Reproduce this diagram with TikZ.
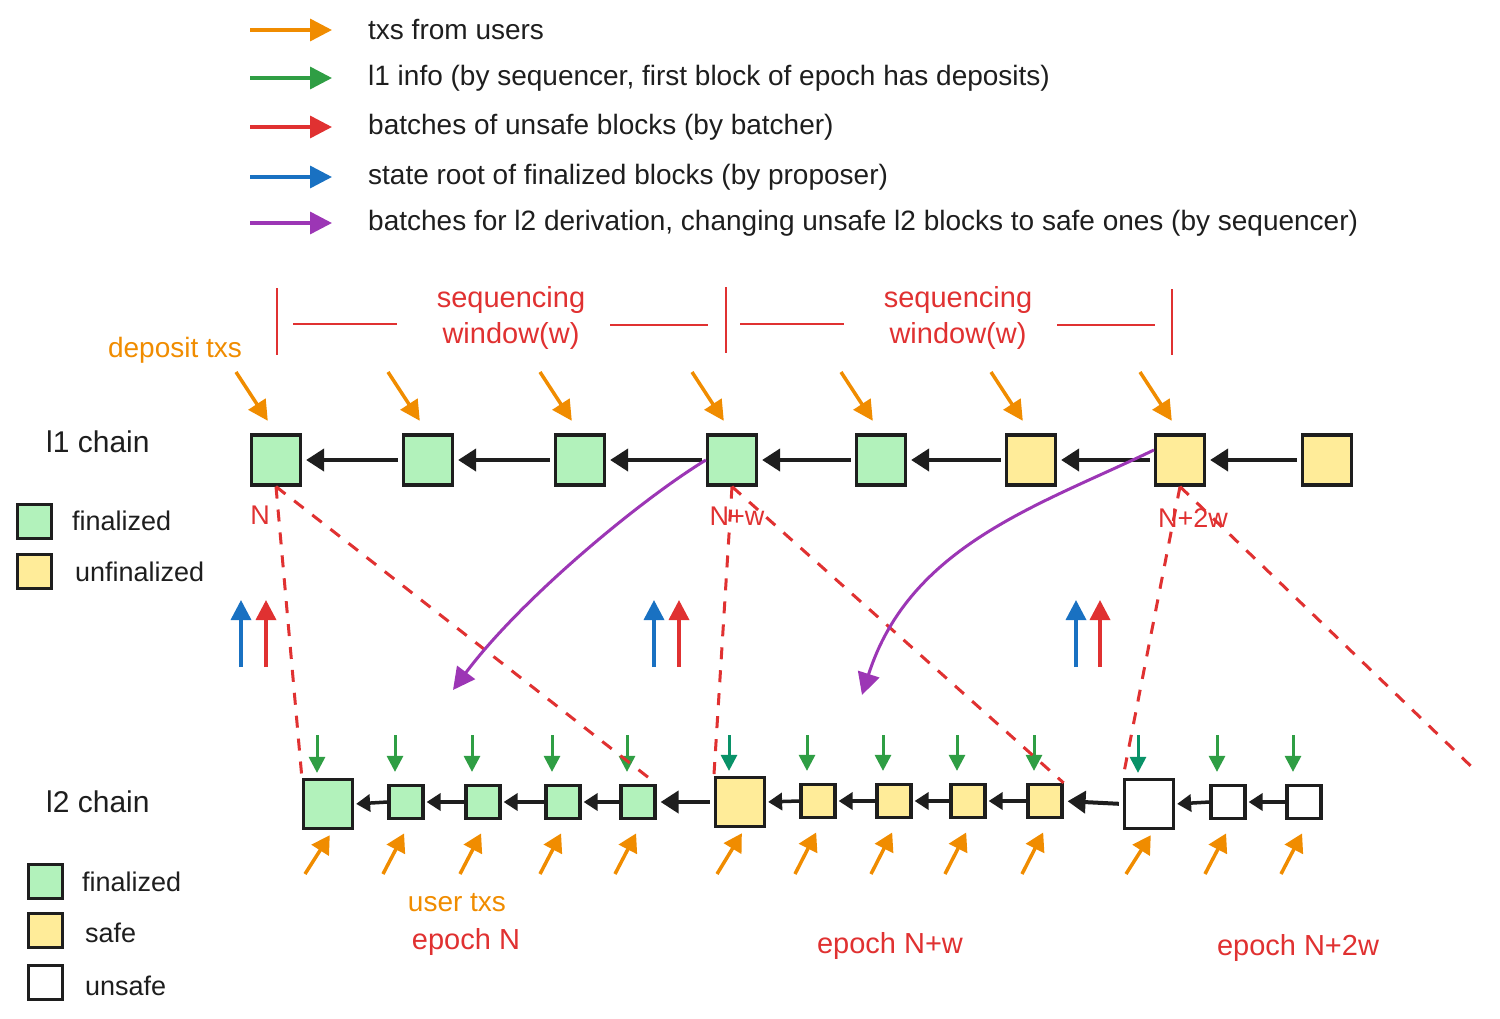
\documentclass[tikz,border=0pt]{standalone}
\usepackage{fontspec}
\setmainfont{Liberation Sans}
\usetikzlibrary{arrows.meta}
\definecolor{cOr}{HTML}{F08C00}
\definecolor{cGr}{HTML}{2F9E44}
\definecolor{cTe}{HTML}{099268}
\definecolor{cRe}{HTML}{E03131}
\definecolor{cBl}{HTML}{1971C2}
\definecolor{cPu}{HTML}{9C36B5}
\definecolor{fGr}{HTML}{B2F2BB}
\definecolor{fYe}{HTML}{FFEC99}
\definecolor{cBk}{HTML}{1E1E1E}
\begin{document}
\begin{tikzpicture}[x=1pt,y=-1pt,
  txt/.style={anchor=west,inner sep=0pt,font=\fontsize{27}{30}\selectfont,text=cBk},
  legtxt/.style={txt,font=\fontsize{28}{32}\selectfont},
  rtxt/.style={inner sep=0pt,font=\fontsize{29}{36}\selectfont,text=cRe},
  ntxt/.style={inner sep=0pt,font=\fontsize{27}{30}\selectfont,text=cRe},
  otxt/.style={inner sep=0pt,font=\fontsize{28}{30}\selectfont,text=cOr},
  blkbase/.style={draw=cBk,line width=3.2pt,inner sep=0pt},
  l1blk/.style={blkbase,minimum width=49pt,minimum height=50pt},
  bigblk/.style={blkbase,minimum width=49pt,minimum height=49pt},
  smblk/.style={blkbase,minimum width=34pt,minimum height=33pt},
  legblk/.style={blkbase,line width=3pt,minimum width=34pt,minimum height=34pt},
  fin/.style={fill=fGr}, unf/.style={fill=fYe}, uns/.style={fill=white},
  legar/.style={line width=3.5pt,-{Triangle[length=22pt,width=22pt]}},
  depar/.style={cOr,line width=3.5pt,-{Triangle[length=20pt,width=20pt]},shorten >=15pt},
  chainar/.style={cBk,line width=4pt,-{Triangle[length=18pt,width=22pt]},shorten <=4pt,shorten >=4pt},
  chainsm/.style={cBk,line width=3.5pt,-{Triangle[length=14pt,width=17pt]},shorten >=2pt},
  grar/.style={line width=3pt,-{Triangle[length=16pt,width=16pt]}},
  orar/.style={cOr,line width=3.5pt,-{Triangle[length=18pt,width=20pt]}},
  upar/.style={line width=3.5pt,-{Triangle[length=20pt,width=20pt]}},
  rdash/.style={cRe,line width=3pt,dash pattern=on 12pt off 11pt},
  window/.style={cRe,line width=2.5pt},
  purar/.style={cPu,line width=3pt,-{Triangle[length=22pt,width=22pt]}}
]
\useasboundingbox (0,0) rectangle (1500,1018);

% ---------- legend ----------
\foreach \y/\c/\t [count=\i] in {30/cOr/txs from users,
  78/cGr/{l1 info (by sequencer, first block of epoch has deposits)},
  127/cRe/batches of unsafe blocks (by batcher),
  177/cBl/state root of finalized blocks (by proposer),
  223/cPu/batches for l2 derivation{,} changing unsafe l2 blocks to safe ones (by sequencer)}{
  \coordinate (ls\i) at (250,\y);
  \coordinate (le\i) at (332,\y);
  \draw[legar,\c] (ls\i) -- (le\i);
  \node[legtxt] (lt\i) at (368,\y) {\t};
}

% ---------- sequencing windows ----------
\coordinate (wa1) at (277,288); \coordinate (wa2) at (277,355);
\coordinate (wb1) at (726,287); \coordinate (wb2) at (726,353);
\coordinate (wc1) at (1172,289); \coordinate (wc2) at (1172,355);
\draw[window] (wa1) -- (wa2);
\draw[window] (wb1) -- (wb2);
\draw[window] (wc1) -- (wc2);
\coordinate (h1a) at (293,324); \coordinate (h1b) at (397,324);
\coordinate (h2a) at (610,325); \coordinate (h2b) at (708,325);
\coordinate (h3a) at (740,324); \coordinate (h3b) at (844,324);
\coordinate (h4a) at (1057,325); \coordinate (h4b) at (1155,325);
\draw[window] (h1a) -- (h1b);
\draw[window] (h2a) -- (h2b);
\draw[window] (h3a) -- (h3b);
\draw[window] (h4a) -- (h4b);
\node[rtxt,align=center] (sw1) at (511,318) {sequencing\\window(w)};
\node[rtxt,align=center] (sw2) at (958,318) {sequencing\\window(w)};

\node[otxt] (dep) at (175,350) {deposit txs};

% ---------- l1 chain ----------
\node[txt,font=\fontsize{30}{32}\selectfont] (l1lab) at (46,442) {l1 chain};
\node[l1blk,fin] (l1a) at (276,460) {};
\node[l1blk,fin] (l1b) at (428,460) {};
\node[l1blk,fin] (l1c) at (580,460) {};
\node[l1blk,fin] (l1d) at (732,460) {};
\node[l1blk,fin] (l1e) at (881,460) {};
\node[l1blk,unf] (l1f) at (1031,460) {};
\node[l1blk,unf] (l1g) at (1180,460) {};
\node[l1blk,unf] (l1h) at (1327,460) {};
\draw[chainar] (l1b.west) -- (l1a.east);
\draw[chainar] (l1c.west) -- (l1b.east);
\draw[chainar] (l1d.west) -- (l1c.east);
\draw[chainar] (l1e.west) -- (l1d.east);
\draw[chainar] (l1f.west) -- (l1e.east);
\draw[chainar] (l1g.west) -- (l1f.east);
\draw[chainar] (l1h.west) -- (l1g.east);

\foreach \n/\x in {l1a/276,l1b/428,l1c/580,l1d/732,l1e/881,l1f/1031,l1g/1180}{
  \coordinate (d\n) at (\x-40,372);
  \draw[depar] (d\n) -- (\n.north);
}

% l1 legend
\node[legblk,fin] (lg1) at (34,521) {};
\node[legblk,unf] (lg2) at (34,571) {};
\node[txt] (lg1t) at (72,521) {finalized};
\node[txt] (lg2t) at (75,572) {unfinalized};

% labels
\node[ntxt] (nN) at (260,515) {N};
\node[ntxt] (nNw) at (737,516) {N+w};
\node[ntxt] (nN2w) at (1193,518) {N+2w};

% ---------- l2 chain ----------
\node[txt,font=\fontsize{30}{32}\selectfont] (l2lab) at (46,802) {l2 chain};
\node[bigblk,fin] (l2a) at (328,804) {};
\node[smblk,fin] (l2b) at (406,802) {};
\node[smblk,fin] (l2c) at (483,802) {};
\node[smblk,fin] (l2d) at (563,802) {};
\node[smblk,fin] (l2e) at (638,802) {};
\node[bigblk,unf] (l2f) at (740,802) {};
\node[smblk,unf] (l2g) at (818,801) {};
\node[smblk,unf] (l2h) at (894,801) {};
\node[smblk,unf] (l2i) at (968,801) {};
\node[smblk,unf] (l2j) at (1045,801) {};
\node[bigblk,uns] (l2k) at (1149,804) {};
\node[smblk,uns] (l2l) at (1228,802) {};
\node[smblk,uns] (l2m) at (1304,802) {};
\draw[chainsm] (l2b.west) -- (l2a.east);
\draw[chainsm] (l2c.west) -- (l2b.east);
\draw[chainsm] (l2d.west) -- (l2c.east);
\draw[chainsm] (l2e.west) -- (l2d.east);
\draw[chainar] (l2f.west) -- (l2e.east);
\draw[chainsm] (l2g.west) -- (l2f.east);
\draw[chainsm] (l2h.west) -- (l2g.east);
\draw[chainsm] (l2i.west) -- (l2h.east);
\draw[chainsm] (l2j.west) -- (l2i.east);
\draw[chainar] (l2k.west) -- (l2j.east);
\draw[chainsm] (l2l.west) -- (l2k.east);
\draw[chainsm] (l2m.west) -- (l2l.east);

% green l1-info arrows
\foreach \n/\x/\s/\c in {l2a/328/5/cGr,l2b/406/12/cGr,l2c/483/12/cGr,l2d/563/12/cGr,l2e/638/12/cGr,
  l2f/740/5/cTe,l2g/818/12/cGr,l2h/894/12/cGr,l2i/968/12/cGr,l2j/1045/12/cGr,
  l2k/1149/5/cTe,l2l/1228/12/cGr,l2m/1304/12/cGr}{
  \coordinate (g\n) at (\x-11,735);
  \draw[grar,\c,shorten >=\s pt] (g\n) -- ([xshift=-11pt]\n.north);
}
% orange user tx arrows
\foreach \n/\x/\s in {l2a/328/6,l2b/406/15,l2c/483/15,l2d/563/15,l2e/638/15,
  l2f/740/6,l2g/818/15,l2h/894/15,l2i/968/15,l2j/1045/15,
  l2k/1149/6,l2l/1228/15,l2m/1304/15}{
  \coordinate (o\n) at (\x-23,874);
  \draw[orar,shorten >=\s pt] (o\n) -- ([xshift=5pt]\n.south);
}

% l2 legend
\node[legblk,fin] (lh1) at (45,881) {};
\node[legblk,unf] (lh2) at (45,930) {};
\node[legblk,uns] (lh3) at (45,982) {};
\node[txt] (lh1t) at (82,882) {finalized};
\node[txt] (lh2t) at (85,933) {safe};
\node[txt] (lh3t) at (85,986) {unsafe};

\node[otxt] (utx) at (457,903) {user txs};
\node[rtxt] (ep1) at (466,942) {epoch N};
\node[rtxt] (ep2) at (890,946) {epoch N+w};
\node[rtxt] (ep3) at (1298,948) {epoch N+2w};

% ---------- blue/red up arrows ----------
\foreach \bx/\rx [count=\i] in {241/266,654/679,1076/1100}{
  \coordinate (bs\i) at (\bx,667); \coordinate (be\i) at (\bx,600);
  \coordinate (rs\i) at (\rx,667); \coordinate (re\i) at (\rx,600);
  \draw[upar,cBl] (bs\i) -- (be\i);
  \draw[upar,cRe] (rs\i) -- (re\i);
}

% ---------- red dashed ----------
\draw[rdash] (l1a.south) -- (l2a.north west);
\draw[rdash] (l1a.south) -- (l2e.north east);
\draw[rdash] (l1d.south) -- (l2f.north west);
\draw[rdash] (l1d.south) -- (l2j.north east);
\draw[rdash] (l1g.south) -- (l2k.north west);
\coordinate (dend) at (1477,772);
\draw[rdash] (l1g.south) -- (dend);

% ---------- purple derivation arrows ----------
\coordinate (pe1) at (453,690);
\coordinate (pe2) at (862,695);
\draw[purar] (l1d.west) .. controls (640,500) and (520,600) .. (pe1);
\draw[purar] ([yshift=10pt]l1g.west) .. controls (1040,505) and (910,545) .. (pe2);
\end{tikzpicture}
\end{document}
